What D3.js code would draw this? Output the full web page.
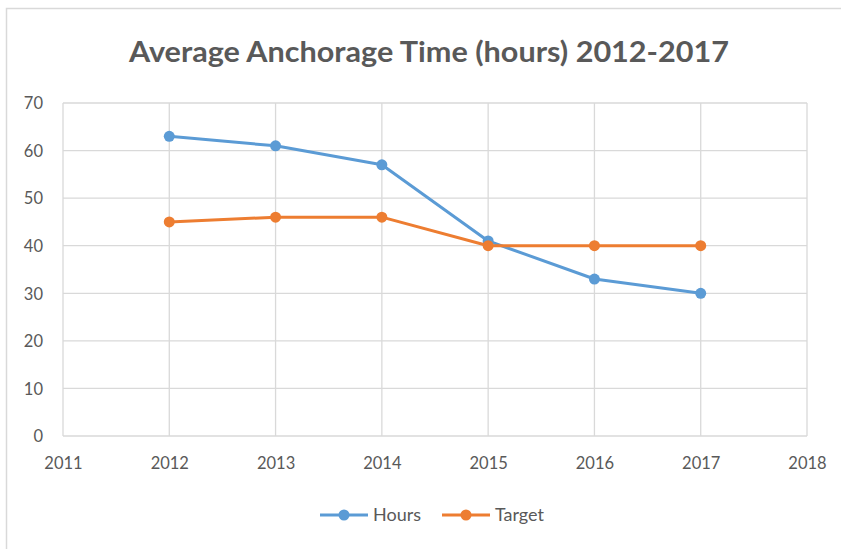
<!DOCTYPE html>
<html>
<head>
<meta charset="utf-8">
<script src="https://cdn.jsdelivr.net/npm/d3@7"></script>
<style>
  body { margin: 0; background: #fff; }
  text { font-family: Lato, "Open Sans", sans-serif; }
</style>
</head>
<body>
<svg class="chart"></svg>
<script>
// data
const years = [2012, 2013, 2014, 2015, 2016, 2017];
const hours = [63, 61, 57, 41, 33, 30];
const target = [45, 46, 46, 40, 40, 40];
const xTicks = [2011, 2012, 2013, 2014, 2015, 2016, 2017, 2018];
const yTicks = [0, 10, 20, 30, 40, 50, 60, 70];

const WIDTH = 841, HEIGHT = 549;
const margin = {top: 103, right: 34, bottom: 113, left: 63};
const BLUE = '#5b9bd5', ORANGE = '#ed7d31', GRID = '#d9d9d9', TEXT = '#595959';

const svg = d3.select('.chart')
    .attr('width', WIDTH)
    .attr('height', HEIGHT);

// outer frame (only left + top visible in the crop)
svg.append('path')
    .attr('d', `M6.5,${HEIGHT} V8.5 H${WIDTH}`)
    .style('fill', 'none')
    .style('stroke', GRID)
    .style('stroke-width', 1.5);

svg.append('text')
    .attr('x', 429)
    .attr('y', 62)
    .attr('text-anchor', 'middle')
    .attr('textLength', 600)
    .attr('lengthAdjust', 'spacingAndGlyphs')
    .style('font-size', '28px')
    .style('font-weight', 'bold')
    .style('fill', TEXT)
    .text('Average Anchorage Time (hours) 2012-2017');

const x = d3.scaleLinear()
    .domain([2011, 2018])
    .range([margin.left, WIDTH - margin.right]);
const y = d3.scaleLinear()
    .domain([0, 70])
    .range([HEIGHT - margin.bottom, margin.top]);

const g = svg.append('g');

// gridlines
g.selectAll('.hgrid')
    .data(yTicks)
    .join('line')
    .attr('x1', x(2011)).attr('x2', x(2018))
    .attr('y1', d => y(d)).attr('y2', d => y(d))
    .style('stroke', GRID)
    .style('stroke-width', 1.3);
g.selectAll('.vgrid')
    .data(xTicks)
    .join('line')
    .attr('y1', y(0)).attr('y2', y(70))
    .attr('x1', d => x(d)).attr('x2', d => x(d))
    .style('stroke', GRID)
    .style('stroke-width', 1.3);

// axes (labels only)
const yAxis = svg.append('g')
    .attr('transform', `translate(${margin.left - 20},0)`)
    .call(d3.axisLeft(y).tickValues(yTicks).tickSize(0).tickPadding(0));
const xAxis = svg.append('g')
    .attr('transform', `translate(0,${y(0) + 21})`)
    .call(d3.axisBottom(x).tickValues(xTicks).tickFormat(d3.format('d')).tickSize(0).tickPadding(0));
[yAxis, xAxis].forEach(a => {
    a.select('.domain').remove();
    a.selectAll('text')
        .style('font-size', '16.5px')
        .style('fill', TEXT)
        .style('font-family', 'Lato, sans-serif');
});
yAxis.selectAll('text').attr('dy', '0.35em');
xAxis.selectAll('text').attr('dy', '0.71em');

const series = [
    {name: 'Hours', values: hours, color: BLUE},
    {name: 'Target', values: target, color: ORANGE}
];

const line = d3.line()
    .x((d, i) => x(years[i]))
    .y(d => y(d));

series.forEach(s => {
    g.append('path')
        .datum(s.values)
        .attr('d', line)
        .style('fill', 'none')
        .style('stroke', s.color)
        .style('stroke-width', 3)
        .style('stroke-linejoin', 'round');
    g.selectAll(null)
        .data(s.values)
        .join('circle')
        .attr('cx', (d, i) => x(years[i]))
        .attr('cy', d => y(d))
        .attr('r', 5.5)
        .style('fill', s.color);
});

// legend
const legend = svg.append('g').attr('transform', 'translate(0,515)');
const legendX = [320, 442];
series.forEach((s, i) => {
    const lg = legend.append('g').attr('transform', `translate(${legendX[i]},0)`);
    lg.append('line')
        .attr('x1', 0).attr('x2', 48)
        .style('stroke', s.color)
        .style('stroke-width', 3);
    lg.append('circle')
        .attr('cx', 24).attr('r', 5.5)
        .style('fill', s.color);
    lg.append('text')
        .attr('x', 53)
        .attr('dy', '0.35em')
        .style('font-size', '18px')
        .style('fill', TEXT)
        .text(s.name);
});
</script>
</body>
</html>
